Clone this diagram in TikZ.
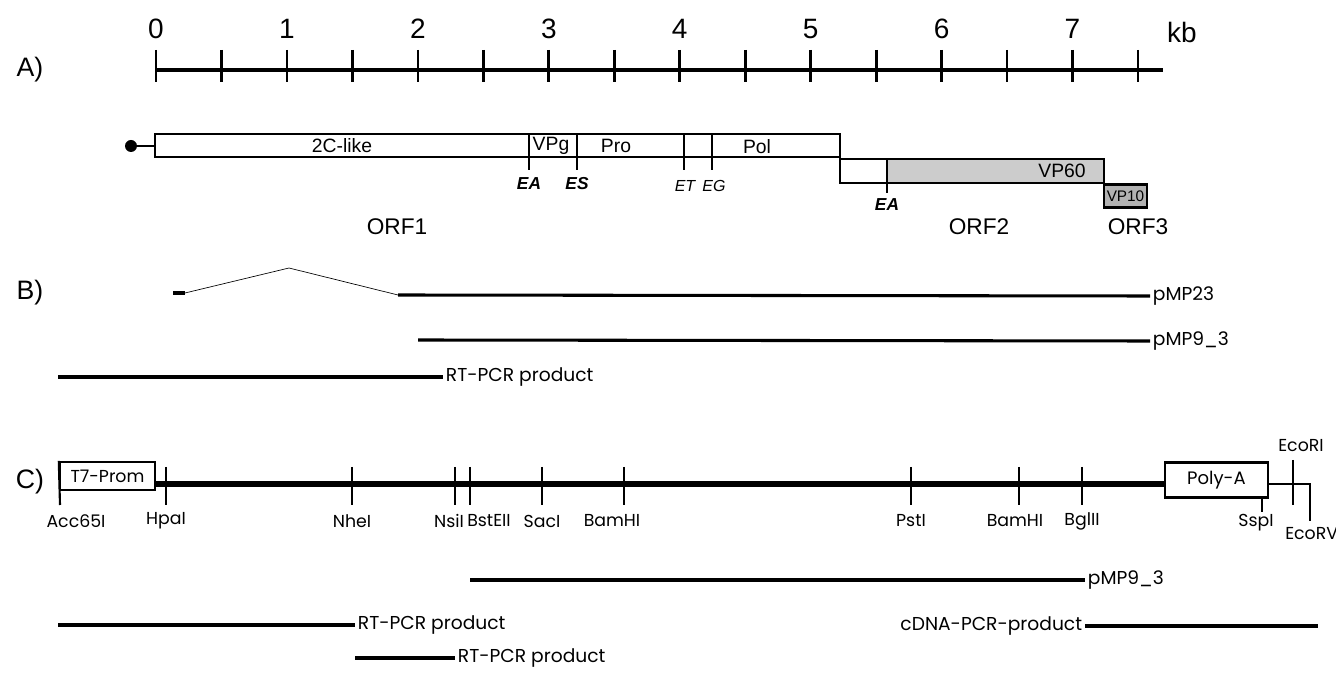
\documentclass[tikz,border=0pt]{standalone}
\usepackage{fontspec}
\setmainfont{Liberation Sans}
\newfontfamily\gothic{Poppins}
\usetikzlibrary{positioning}

\begin{document}
\begin{tikzpicture}[
    x=0.75pt, y=-0.75pt,
    panel/.style={font=\fontsize{20}{22}\selectfont},
    num/.style={font=\fontsize{21}{23}\selectfont},
    ruler/.style={line width=2.4pt},
    tick/.style={line width=2pt},
    orf/.style={draw, line width=1.8pt},
    cleave/.style={line width=1.4pt},
    dom/.style={font=\fontsize{14.5}{16}\selectfont, inner sep=0pt},
    orflbl/.style={font=\fontsize{17}{19}\selectfont},
    epair/.style={font=\fontsize{13}{15}\selectfont\bfseries\itshape, inner sep=0pt},
    esite/.style={font=\fontsize{12}{14}\selectfont\itshape, inner sep=0pt},
    clone/.style={line width=2.3pt},
    clonelbl/.style={font=\gothic\fontsize{14}{16}\selectfont, anchor=west, inner sep=2pt},
    site/.style={line width=1.6pt},
    sitelbl/.style={font=\gothic\fontsize{13}{15}\selectfont, inner sep=0pt}
]
\useasboundingbox (0,0) rectangle (1336,673);

% A) genome scale
\node[panel] (pA) at (30,70) {A)};
\draw[ruler] (156,70) -- (1163,70);
\foreach \k in {0,...,15}
    \draw[tick] ({156+65.47*\k},50) -- ++(0,32);
\foreach \k in {0,...,7}
    \node[num] (n\k) at ({156+130.93*\k},29) {\k};
\node[num] (kb) at (1182,32) {kb};

% ORF1
\coordinate (cap) at (131,146);
\fill (cap) circle (4.5pt);
\draw[orf] (cap) -- (155,146);
\draw[orf] (155,134) rectangle (840,157);
\foreach \x in {529,577,684,712}
    \draw[cleave] (\x,134) -- (\x,170);
\node[dom] (d2c) at (342,146) {2C-like};
\node[dom] (dvpg) at (551,146) {VPg};
\node[dom] (dpro) at (616,146) {Pro};
\node[dom] (dpol) at (757,147) {Pol};
\node[epair] (ea1) at (529,184) {EA};
\node[epair] (es1) at (577,184) {ES};
\node[esite] (et1) at (685,186) {ET};
\node[esite] (eg1) at (714,186) {EG};
\node[orflbl] (orf1) at (397,227) {ORF1};

% ORF2 and ORF3
\fill[gray!40] (887,159) rectangle (1104,183);
\draw[orf] (840,157) -- (840,183) -- (1104,183) -- (1104,159) -- (840,159);
\draw[cleave] (887,159) -- (887,193);
\node[dom] (dvp60) at (1062,171) {VP60};
\node[epair] (ea2) at (887,205) {EA};
\node[orflbl] (orf2) at (979,227) {ORF2};
\node[draw, line width=2.2pt, fill=gray!60, minimum width=43*0.75pt, minimum height=23*0.75pt,
      inner sep=0pt, font=\fontsize{11.5}{12}\selectfont] (vp10) at (1125.5,196) {VP10};
\node[orflbl] (orf3) at (1138,227) {ORF3};

% B) clones
\node[panel] (pB) at (30,293) {B)};
\coordinate (p23a) at (173,293);
\coordinate (p23b) at (185,293);
\coordinate (p23top) at (289,268);
\coordinate (p23c) at (398,295);
\coordinate (p23d) at (1150,296);
\draw[clone] (p23a) -- (p23b);
\draw[line width=0.5pt] (p23b) -- (p23top) -- (p23c);
\draw[clone] (p23c) -- (p23d);
\node[clonelbl] (lp23) at (p23d) {pMP23};
\coordinate (p93a) at (418,340);
\coordinate (p93b) at (1150,341);
\draw[clone] (p93a) -- (p93b);
\node[clonelbl] (lp93) at (p93b) {pMP9\_3};
\coordinate (rta) at (58,377);
\coordinate (rtb) at (443,377);
\draw[clone] (rta) -- (rtb);
\node[clonelbl] (lrt) at (rtb) {RT-PCR product};

% C) full-length construct
\node[panel] (pC) at (30,482) {C)};
\node[draw, line width=1.8pt, minimum width=95*0.75pt, minimum height=28*0.75pt,
      inner sep=0pt, font=\gothic\fontsize{13}{15}\selectfont] (t7) at (107.5,476) {T7-Prom};
\node[draw, line width=2.2pt, minimum width=103*0.75pt, minimum height=35*0.75pt,
      inner sep=0pt, font=\gothic\fontsize{13.5}{15}\selectfont] (polya) at (1216.5,480) {Poly-A};
\draw[line width=5pt] (t7.east |- 0,484) -- (polya.west |- 0,484);
\draw[site] (t7.north west) -- (60,505);
\node[sitelbl] (sacc) at (76,521) {Acc65I};
\foreach \x/\lbl/\lx [count=\i] in {166/HpaI/166, 352/NheI/352, 455/NsiI/449, 470/BstEII/489,
        542/SacI/542, 624/BamHI/612, 911/PstI/911, 1019/BamHI/1015, 1082/BglII/1082} {
    \draw[site] (\x,467) -- (\x,505);
    \node[sitelbl] (s\i) at (\lx,521) {\lbl};
}
\coordinate (rvtop) at (1310,484);
\coordinate (rvbot) at (1310,521);
\draw[site] (polya.east |- 0,484) -- (rvtop) -- (rvbot);
\draw[site] (1293,460) -- (1293,505);
\node[sitelbl] (seri) at (1301,446) {EcoRI};
\draw[site] (1262,497) -- (1262,512);
\node[sitelbl] (sssp) at (1256,523) {SspI};
\node[sitelbl, anchor=west] (serv) at (1285,534) {EcoRV};

\coordinate (c93a) at (470,580);
\coordinate (c93b) at (1085,580);
\draw[clone] (c93a) -- (c93b);
\node[clonelbl] (lc93) at (c93b) {pMP9\_3};
\coordinate (crta) at (58,625);
\coordinate (crtb) at (355,625);
\draw[clone] (crta) -- (crtb);
\node[clonelbl] (lcrt) at (crtb) {RT-PCR product};
\coordinate (cdna) at (1085,626);
\coordinate (cdnb) at (1318,626);
\draw[clone] (cdna) -- (cdnb);
\node[clonelbl, anchor=east] (lcdn) at (cdna) {cDNA-PCR-product};
\coordinate (crt2a) at (355,658);
\coordinate (crt2b) at (455,658);
\draw[clone] (crt2a) -- (crt2b);
\node[clonelbl] (lcrt2) at (crt2b) {RT-PCR product};
\end{tikzpicture}
\end{document}
